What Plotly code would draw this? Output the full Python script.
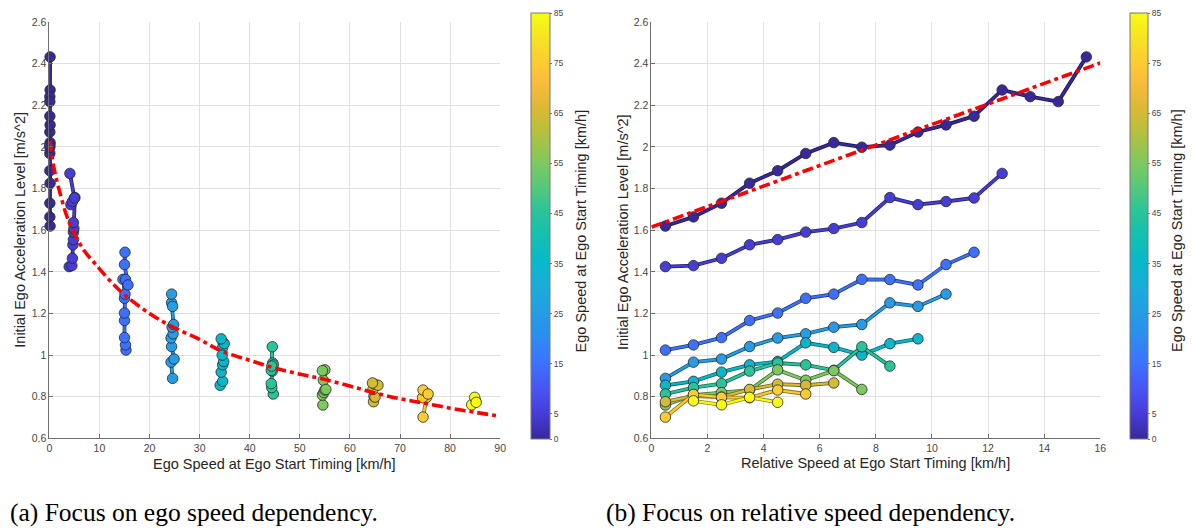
import plotly.graph_objects as go

# ---- data -------------------------------------------------------------
ego_groups = [0, 5, 15, 25, 35, 45, 55, 65, 75, 85]

rel_v0 = [0.5, 1.5, 2.5, 3.5, 4.5, 5.5, 6.5, 7.5, 8.5, 9.5, 10.5, 11.5, 12.5, 13.5, 14.5, 15.5]
acc_v0 = [1.62, 1.664, 1.73, 1.826, 1.886, 1.969, 2.021, 1.999, 2.009, 2.072, 2.106, 2.148, 2.274, 2.242, 2.218, 2.433]
ego_v0 = [0.15, 0.1, 0.1, 0.15, 0.1, 0.1, 0.15, 0.1, 0.1, 0.1, 0.15, 0.1, 0.15, 0.1, 0.1, 0.15]

rel_v5 = [0.5, 1.5, 2.5, 3.5, 4.5, 5.5, 6.5, 7.5, 8.5, 9.5, 10.5, 11.5, 12.5]
acc_v5 = [1.425, 1.43, 1.465, 1.53, 1.555, 1.591, 1.608, 1.637, 1.757, 1.723, 1.738, 1.755, 1.873]
ego_v5 = [3.96, 4.5, 4.6, 4.7, 4.8, 4.8, 4.9, 4.8, 5.1, 4.3, 4.6, 5.0, 4.1]

rel_v15 = [0.5, 1.5, 2.5, 3.5, 4.5, 5.5, 6.5, 7.5, 8.5, 9.5, 10.5, 11.5]
acc_v15 = [1.024, 1.049, 1.084, 1.166, 1.202, 1.273, 1.293, 1.364, 1.363, 1.337, 1.435, 1.494]
ego_v15 = [15.3, 15.2, 15.0, 15.0, 15.0, 15.0, 15.1, 14.7, 15.2, 15.7, 15.0, 15.1]

rel_v25 = [0.5, 1.5, 2.5, 3.5, 4.5, 5.5, 6.5, 7.5, 8.5, 9.5, 10.5]
acc_v25 = [0.888, 0.966, 0.981, 1.041, 1.082, 1.102, 1.134, 1.147, 1.251, 1.234, 1.293]
ego_v25 = [24.6, 24.3, 24.9, 24.4, 24.3, 24.7, 24.5, 24.8, 24.4, 24.6, 24.4]

rel_v35 = [0.5, 1.5, 2.5, 3.5, 4.5, 5.5, 6.5, 7.5, 8.5, 9.5]
acc_v35 = [0.855, 0.874, 0.918, 0.953, 0.969, 1.059, 1.037, 1.0, 1.055, 1.078]
ego_v35 = [34.1, 34.6, 34.3, 34.6, 34.8, 34.7, 34.6, 34.5, 34.9, 34.3]

rel_v45 = [0.5, 1.5, 2.5, 3.5, 4.5, 5.5, 6.5, 7.5, 8.5]
acc_v45 = [0.813, 0.844, 0.863, 0.923, 0.962, 0.953, 0.927, 1.04, 0.947]
ego_v45 = [44.7, 44.4, 44.3, 44.5, 44.6, 44.7, 44.3, 44.5, 44.4]

rel_v55 = [0.5, 1.5, 2.5, 3.5, 4.5, 5.5, 6.5, 7.5]
acc_v55 = [0.76, 0.808, 0.82, 0.832, 0.929, 0.879, 0.925, 0.835]
ego_v55 = [54.6, 54.5, 54.8, 55.0, 55.0, 54.7, 54.5, 55.2]

rel_v65 = [0.5, 1.5, 2.5, 3.5, 4.5, 5.5, 6.5]
acc_v65 = [0.776, 0.803, 0.798, 0.835, 0.86, 0.855, 0.866]
ego_v65 = [64.7, 64.8, 65.0, 64.6, 64.9, 65.6, 64.5]

rel_v75 = [0.5, 1.5, 2.5, 3.5, 4.5, 5.5]
acc_v75 = [0.702, 0.811, 0.797, 0.795, 0.832, 0.813]
ego_v75 = [74.6, 75.4, 75.3, 74.5, 74.6, 75.6]

rel_v85 = [1.5, 2.5, 3.5, 4.5]
acc_v85 = [0.78, 0.761, 0.797, 0.773]
ego_v85 = [85.1, 84.3, 84.9, 85.2]

# fitted trend on the ego-speed panel (sampled along the curve)
fit_ego_x = [0, 0.33, 1, 2, 3.6, 5.3, 7, 9.2, 12, 15, 20, 24.4, 30, 34.3, 40, 44.8, 50.1, 54.8, 60, 65, 70, 74.6, 80, 85, 90]
fit_ego_y = [2.03, 1.987, 1.89, 1.79, 1.66, 1.57, 1.50, 1.437, 1.36, 1.29, 1.20, 1.138, 1.075, 1.02, 0.975, 0.939, 0.908, 0.884, 0.851, 0.818, 0.79, 0.77, 0.745, 0.725, 0.706]

# linear trend on the relative-speed panel
fit_rel_x = [0, 16]
fit_rel_y = [1.615, 2.404]

rel_series = [rel_v0, rel_v5, rel_v15, rel_v25, rel_v35, rel_v45, rel_v55, rel_v65, rel_v75, rel_v85]
acc_series = [acc_v0, acc_v5, acc_v15, acc_v25, acc_v35, acc_v45, acc_v55, acc_v65, acc_v75, acc_v85]
ego_series = [ego_v0, ego_v5, ego_v15, ego_v25, ego_v35, ego_v45, ego_v55, ego_v65, ego_v75, ego_v85]

# ---- colour map (parula-like) -----------------------------------------
CMIN, CMAX = 0, 85
parula = [
    (0.00, (55, 40, 155)),
    (0.06, (70, 60, 215)),
    (0.12, (71, 86, 245)),
    (0.18, (60, 115, 254)),
    (0.24, (44, 140, 240)),
    (0.30, (36, 158, 228)),
    (0.36, (25, 173, 218)),
    (0.42, (8, 185, 200)),
    (0.48, (20, 192, 175)),
    (0.54, (45, 197, 150)),
    (0.60, (92, 201, 117)),
    (0.66, (135, 200, 90)),
    (0.72, (180, 192, 62)),
    (0.78, (222, 184, 52)),
    (0.84, (250, 188, 60)),
    (0.90, (250, 210, 45)),
    (0.95, (245, 232, 32)),
    (1.00, (249, 251, 20)),
]
colorscale = [[t, "rgb(%d,%d,%d)" % c] for t, c in parula]


def cmap(v, k=1.0):
    t = (v - CMIN) / (CMAX - CMIN)
    for (t0, c0), (t1, c1) in zip(parula[:-1], parula[1:]):
        if t0 <= t <= t1:
            f = (t - t0) / (t1 - t0) if t1 > t0 else 0
            c = [k * (a + (b - a) * f) for a, b in zip(c0, c1)]
            return "rgb(%d,%d,%d)" % tuple(int(round(x)) for x in c)
    return "rgb(%d,%d,%d)" % parula[-1][1]


W, H = 1193, 532
def px_x(p):
    return p / W
def px_y(p):
    return 1 - p / H

fig = go.Figure()

panels = [("x", "y", "coloraxis", ego_series), ("x2", "y2", "coloraxis2", rel_series)]
for xa, ya, cax, xs_all in panels:
    for g, xs, ys in zip(ego_groups, xs_all, acc_series):
        # dark edge under the coloured connecting line
        fig.add_trace(go.Scatter(
            x=xs, y=ys, mode="lines", xaxis=xa, yaxis=ya,
            line=dict(color=cmap(g, 0.55), width=3.8),
            showlegend=False, hoverinfo="skip", cliponaxis=False))
        fig.add_trace(go.Scatter(
            x=xs, y=ys, mode="lines+markers", xaxis=xa, yaxis=ya,
            line=dict(color=cmap(g), width=2.2),
            marker=dict(size=10.5, color=[g] * len(xs), coloraxis=cax,
                        line=dict(color="rgb(40,40,40)", width=0.8)),
            showlegend=False, name="%d km/h" % g, cliponaxis=False))

fig.add_trace(go.Scatter(
    x=fit_ego_x, y=fit_ego_y, mode="lines", xaxis="x", yaxis="y",
    line=dict(color="rgb(255,0,0)", width=3.6, dash="11px,4px,4px,4px", shape="spline"),
    showlegend=False))
fig.add_trace(go.Scatter(
    x=fit_rel_x, y=fit_rel_y, mode="lines", xaxis="x2", yaxis="y2",
    line=dict(color="rgb(255,0,0)", width=3.6, dash="11px,4px,4px,4px"),
    showlegend=False))

TICK_FONT = dict(family="Liberation Sans, Arial, sans-serif", size=10.5, color="rgb(70,70,70)")
TITLE_FONT = dict(family="Liberation Sans, Arial, sans-serif", size=14.5, color="rgb(38,38,38)")
GRID = "rgb(224,224,224)"
AXLINE = "rgb(110,110,110)"

common_axis = dict(showgrid=True, gridcolor=GRID, gridwidth=1, zeroline=False,
                   showline=True, linecolor=AXLINE, linewidth=1,
                   ticks="inside", ticklen=4, tickcolor=AXLINE,
                   tickfont=TICK_FONT, fixedrange=True)

y_dom = [px_y(442.3), px_y(16.5)]

def colorbar(x_left, thick):
    return dict(
        x=px_x(x_left), xanchor="left", xpad=0,
        y=px_y(443), yanchor="bottom", ypad=0,
        len=426, lenmode="pixels", thickness=thick, thicknessmode="pixels",
        outlinecolor="rgb(120,120,120)", outlinewidth=1,
        tickvals=[0, 5, 15, 25, 35, 45, 55, 65, 75, 85],
        ticks="outside", ticklen=2, tickcolor="rgb(120,120,120)",
        tickfont=dict(family="Liberation Sans, Arial, sans-serif", size=8.5, color="rgb(70,70,70)"),
    )

fig.update_layout(
    width=W, height=H,
    margin=dict(l=0, r=0, t=0, b=0),
    paper_bgcolor="white", plot_bgcolor="white",
    showlegend=False,
    xaxis=dict(common_axis, domain=[px_x(46.7), px_x(501)], range=[0, 90], dtick=10, anchor="y"),
    yaxis=dict(common_axis, domain=y_dom, range=[0.6, 2.6], dtick=0.2, anchor="x"),
    xaxis2=dict(common_axis, domain=[px_x(653.3), px_x(1105.7)], range=[0, 16], dtick=2, anchor="y2"),
    yaxis2=dict(common_axis, domain=y_dom, range=[0.6, 2.6], dtick=0.2, anchor="x2"),
    coloraxis=dict(cmin=CMIN, cmax=CMAX, colorscale=colorscale, colorbar=colorbar(532, 19)),
    coloraxis2=dict(cmin=CMIN, cmax=CMAX, colorscale=colorscale, colorbar=colorbar(1136, 18)),
)

CAPTION_FONT = dict(family="Liberation Serif, DejaVu Serif, serif", size=25.5, color="black")
annotations = [
    dict(text="Ego Speed at Ego Start Timing [km/h]", x=px_x(273.5), y=px_y(469),
         textangle=0, font=TITLE_FONT),
    dict(text="Relative Speed at Ego Start Timing [km/h]", x=px_x(879), y=px_y(468),
         textangle=0, font=TITLE_FONT),
    dict(text="Initial Ego Acceleration Level [m/s^2]", x=px_x(17), y=px_y(229),
         textangle=-90, font=TITLE_FONT),
    dict(text="Initial Ego Acceleration Level [m/s^2]", x=px_x(625), y=px_y(231),
         textangle=-90, font=TITLE_FONT),
    dict(text="Ego Speed at Ego Start Timing [km/h]", x=px_x(582), y=px_y(230),
         textangle=-90, font=TITLE_FONT),
    dict(text="Ego Speed at Ego Start Timing [km/h]", x=px_x(1183), y=px_y(230),
         textangle=-90, font=TITLE_FONT),
    dict(text="(a) Focus on ego speed dependency.", x=px_x(5), y=px_y(518), xanchor="left",
         font=CAPTION_FONT),
    dict(text="(b) Focus on relative speed dependency.", x=px_x(606), y=px_y(518), xanchor="left",
         font=CAPTION_FONT),
]
for a in annotations:
    a.setdefault("xanchor", "center")
    a.update(xref="paper", yref="paper", yanchor="middle", showarrow=False)
fig.update_layout(annotations=annotations)

fig.write_html("out.html")
